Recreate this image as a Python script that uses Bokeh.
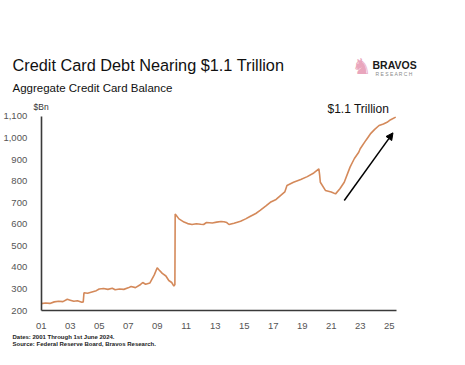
from bokeh.plotting import figure
from bokeh.models import Label, Arrow, NormalHead, FixedTicker, Range1d
from bokeh.embed import file_html
from bokeh.resources import INLINE

# ---- data ----
years = [2001.0, 2001.3, 2001.6, 2001.9, 2002.2, 2002.5, 2002.8, 2003.0, 2003.25, 2003.5,
         2003.8, 2003.9, 2003.95, 2004.2, 2004.5, 2004.8, 2005.0, 2005.3, 2005.6, 2005.9,
         2006.1, 2006.4, 2006.7, 2007.0, 2007.2, 2007.5, 2007.8, 2008.0, 2008.2, 2008.5,
         2008.8, 2009.0, 2009.1, 2009.35, 2009.6, 2009.8, 2010.0, 2010.15, 2010.22, 2010.24,
         2010.5, 2010.85, 2011.1, 2011.4, 2011.7, 2012.0, 2012.2, 2012.4, 2012.8, 2013.1,
         2013.4, 2013.6, 2013.8, 2013.95, 2014.3, 2014.75, 2015.1, 2015.4, 2015.8, 2016.1,
         2016.5, 2016.8, 2017.2, 2017.5, 2017.8, 2017.95, 2018.4, 2018.9, 2019.35, 2019.8,
         2020.15, 2020.2, 2020.25, 2020.6, 2021.0, 2021.3, 2021.6, 2021.9, 2022.3, 2022.6,
         2022.9, 2023.0, 2023.4, 2023.7, 2024.0, 2024.3, 2024.6, 2024.85, 2025.1, 2025.45]
balance = [232, 235, 233, 240, 243, 241, 252, 248, 243, 245,
           238, 240, 282, 280, 286, 292, 300, 302, 298, 303,
           296, 300, 298, 305, 311, 306, 318, 330, 322, 328,
           365, 398, 390, 372, 360, 339, 330, 313, 320, 648,
           625, 610, 603, 599, 602, 600, 599, 608, 606, 610,
           613, 612, 608, 599, 605, 614, 625, 636, 650, 664,
           685, 702, 715, 733, 750, 780, 795, 808, 821, 838,
           857, 830, 795, 757, 750, 741, 765, 795, 865, 905,
           934, 950, 990, 1019, 1040, 1058, 1065, 1073, 1085, 1097]

x_ticks = [2001, 2003, 2005, 2007, 2009, 2011, 2013, 2015, 2017, 2019, 2021, 2023, 2025]
x_tick_labels = ["01", "03", "05", "07", "09", "11", "13", "15", "17", "19", "21", "23", "25"]
y_ticks = [200, 300, 400, 500, 600, 700, 800, 900, 1000, 1100]
y_tick_labels = ["200", "300", "400", "500", "600", "700", "800", "900", "1,000", "1,100"]

arrow_from = (2021.9, 710)
arrow_to = (2025.26, 1024)

# pixel (page) -> data helpers
def fx(px):
    return 2001 + (px - 40.7) / 14.5

def fy(py):
    return 200 + (310 - py) / 0.2156

W, H = 455, 357
OX, OY = 0, 0  # observed placement of the figure in the picture
p = figure(width=W, height=H, output_backend="svg", toolbar_location=None,
           x_range=Range1d(fx(OX), fx(OX + W)), y_range=Range1d(fy(OY + H), fy(OY)),
           min_border=0)
p.outline_line_color = None
p.grid.visible = False
p.background_fill_color = "white"
p.border_fill_color = "white"

p.line(years, balance, line_color="#d4895a", line_width=1.6)

for ax in (p.xaxis[0], p.yaxis[0]):
    ax.axis_line_color = "#3a3a3a"
    ax.axis_line_width = 1.6
    ax.major_tick_line_color = None
    ax.minor_tick_line_color = None
    ax.major_label_text_color = "#555555"
    ax.major_label_text_font = "Liberation Sans"
    ax.major_label_text_font_size = "9.5px"

p.xaxis.ticker = FixedTicker(ticks=x_ticks)
p.xaxis.major_label_overrides = {t: l for t, l in zip(x_ticks, x_tick_labels)}
p.xaxis.major_label_standoff = 6
p.xaxis.fixed_location = 200
p.xaxis.bounds = (2001, 2025.5)
p.yaxis.ticker = FixedTicker(ticks=y_ticks)
p.yaxis.major_label_overrides = {t: l for t, l in zip(y_ticks, y_tick_labels)}
p.yaxis.major_label_standoff = 8
p.yaxis.fixed_location = 2001
p.yaxis.bounds = (200, 1100)

def lab(text, px, py, size, color="#111111", bold=False, align="left", font="Liberation Sans"):
    p.add_layout(Label(x=fx(px), y=fy(py), text=text, text_font=font,
                       text_font_size=size, text_color=color, text_align=align,
                       text_baseline="middle",
                       text_font_style="bold" if bold else "normal"))

lab("Credit Card Debt Nearing $1.1 Trillion", 12, 64, "16.3px")
lab("Aggregate Credit Card Balance", 12, 87, "11.5px")
lab("$Bn", 33, 106, "8.5px", color="#333333")
lab("$1.1 Trillion", 327, 108, "12px")
lab("Dates: 2001 Through 1st June 2024.", 12, 336, "6px", color="#222222", bold=True)
lab("Source: Federal Reserve Board, Bravos Research.", 12, 343.5, "6px", color="#222222", bold=True)
lab("BRAVOS", 372, 64, "10.5px", color="#1a1a1a", bold=True)
lab("R E S E A R C H", 375, 73, "5px", color="#8a8a8a")
lab("\u265e", 361, 66, "22px", color="#e9a6bd", align="center", font="DejaVu Sans")

p.add_layout(Arrow(x_start=arrow_from[0], y_start=arrow_from[1],
                   x_end=arrow_to[0], y_end=arrow_to[1],
                   line_color="black", line_width=1.5,
                   end=NormalHead(size=7, fill_color="black", line_color="black")))

open("out.html", "w").write(file_html(p, INLINE))
